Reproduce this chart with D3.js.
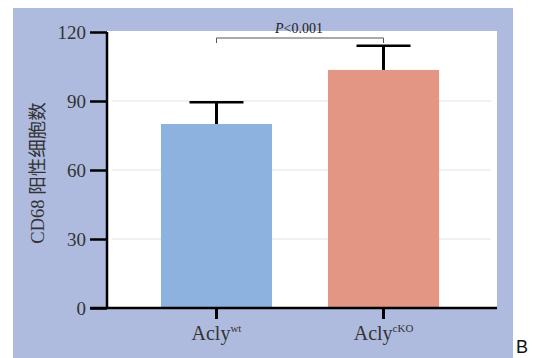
<!DOCTYPE html>
<html>
<head>
<meta charset="utf-8">
<script src="https://cdn.jsdelivr.net/npm/d3@7"></script>
<style>
  body { margin: 0; background: #fff; }
  svg { display: block; }
</style>
</head>
<body>
<div id="chart"></div>
<script>
const groups = ['wt', 'cKO'];
const means = [80, 103.5];
const errors = [9.5, 10.5];
const yTicks = [0, 30, 60, 90, 120];
const barColors = ['#8db2df', '#e49684'];
const pLabel = 'P<0.001';

const width = 534, height = 358;
const margin = { top: 31, right: 37, bottom: 50, left: 107 };
const innerW = width - margin.left - margin.right;
const innerH = height - margin.top - margin.bottom;

const svg = d3.select('#chart').append('svg')
  .attr('width', width)
  .attr('height', height);

// outer panel background
svg.append('rect')
  .attr('x', 13).attr('y', 8)
  .attr('width', 500).attr('height', 350)
  .attr('fill', '#aebbdf');

const g = svg.append('g')
  .attr('transform', `translate(${margin.left},${margin.top})`);

g.append('rect')
  .attr('width', innerW).attr('height', innerH)
  .attr('fill', '#fff');

const x = d3.scaleBand()
  .domain(groups)
  .range([0, innerW])
  .padding(0.335);

const y = d3.scaleLinear()
  .domain([0, 120])
  .range([innerH, 1]);

// grid lines
g.append('g')
  .selectAll('line')
  .data(yTicks.filter(d => d > 0 && d < 120))
  .enter()
  .append('line')
  .attr('x1', 5).attr('x2', innerW - 6)
  .attr('y1', d => y(d)).attr('y2', d => y(d))
  .attr('stroke', '#e3e3e3')
  .attr('stroke-width', 1);

// bars
g.selectAll('.bar')
  .data(groups)
  .enter()
  .append('rect')
  .attr('class', 'bar')
  .attr('x', d => x(d) - 2)
  .attr('y', (d, i) => y(means[i]))
  .attr('width', x.bandwidth())
  .attr('height', (d, i) => innerH - y(means[i]))
  .attr('fill', (d, i) => barColors[i]);

// error bars
const eb = g.append('g').attr('stroke', '#000');
groups.forEach((d, i) => {
  const cx = x(d) + x.bandwidth() / 2 - 2;
  eb.append('line')
    .attr('x1', cx).attr('x2', cx)
    .attr('y1', y(means[i])).attr('y2', y(means[i] + errors[i]))
    .attr('stroke-width', 3);
  eb.append('line')
    .attr('x1', cx - 27).attr('x2', cx + 27)
    .attr('y1', y(means[i] + errors[i])).attr('y2', y(means[i] + errors[i]))
    .attr('stroke-width', 2.5);
});

// significance bracket
const c0 = x(groups[0]) + x.bandwidth() / 2 - 2;
const c1 = x(groups[1]) + x.bandwidth() / 2 - 2;
const by = 7;
g.append('path')
  .attr('d', `M${c0},${by + 5}V${by}H${c1}V${by + 5}`)
  .attr('fill', 'none')
  .attr('stroke', '#555')
  .attr('stroke-width', 1);

const pt = g.append('text')
  .attr('x', (c0 + c1) / 2 - 1)
  .attr('y', by - 5)
  .attr('text-anchor', 'middle')
  .attr('font-family', '"Liberation Serif", "DejaVu Serif", serif')
  .attr('font-size', 14)
  .attr('fill', '#222');
pt.append('tspan').attr('font-style', 'italic').text(pLabel.slice(0, 1));
pt.append('tspan').text(pLabel.slice(1));

// y axis
const yAxis = g.append('g')
  .call(d3.axisLeft(y).tickValues(yTicks).tickSize(17).tickPadding(4));
yAxis.select('.domain').attr('stroke', '#000').attr('stroke-width', 2.5)
  .attr('d', `M0,${innerH}V${y(120)}`);
yAxis.selectAll('.tick line').attr('stroke', '#000').attr('stroke-width', 2.5);
yAxis.selectAll('.tick text')
  .attr('font-family', '"Liberation Serif", "DejaVu Serif", serif')
  .attr('font-size', 19)
  .attr('fill', '#333');

// x axis
const xAxis = g.append('g')
  .attr('transform', `translate(0,${innerH})`)
  .call(d3.axisBottom(x).tickSize(11).tickFormat(''));
xAxis.select('.domain').attr('stroke', '#000').attr('stroke-width', 2.5)
  .attr('d', `M-17,0H${innerW}`);
xAxis.selectAll('.tick').attr('transform', d => `translate(${x(d) + x.bandwidth() / 2 - 2},0)`);
xAxis.selectAll('.tick line').attr('stroke', '#000').attr('stroke-width', 3);

xAxis.selectAll('.tick')
  .append('text')
  .attr('y', 32)
  .attr('text-anchor', 'middle')
  .attr('font-family', '"Liberation Serif", "DejaVu Serif", serif')
  .attr('font-size', 20)
  .attr('fill', '#333')
  .each(function (d) {
    const t = d3.select(this);
    t.append('tspan').text('Acly');
    t.append('tspan').attr('dy', -8).attr('font-size', 11).text(d);
  });

// y axis title
svg.append('text')
  .attr('transform', 'translate(44,173) rotate(-90)')
  .attr('text-anchor', 'middle')
  .attr('font-family', '"Liberation Serif", "Noto Sans CJK SC", serif')
  .attr('font-size', 18.5)
  .attr('fill', '#333')
  .text('CD68 阳性细胞数');

// panel letter
svg.append('text')
  .attr('x', 516).attr('y', 353)
  .attr('font-family', '"Liberation Sans", Arial, sans-serif')
  .attr('font-size', 18)
  .attr('fill', '#111')
  .text('B');
</script>
</body>
</html>
